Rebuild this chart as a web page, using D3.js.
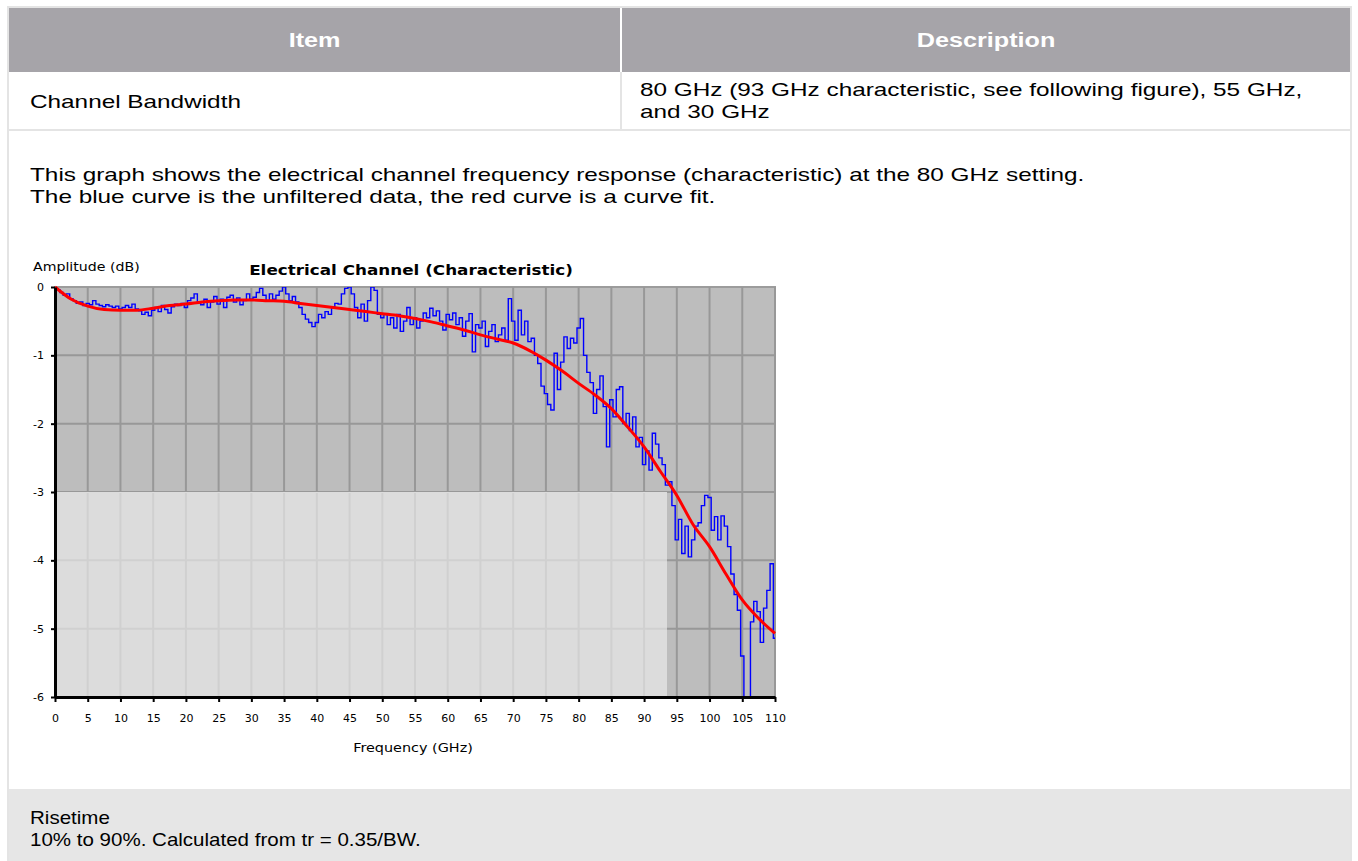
<!DOCTYPE html>
<meta charset="utf-8">
<style>
body { margin: 0; background: #fff; font-family: "Liberation Sans", Arial, sans-serif; color: #000; }
#page { position: relative; width: 1358px; height: 861px; overflow: hidden; }
.box { position: absolute; }
.frame { left: 7px; top: 6px; width: 1341px; height: 900px; border: 2px solid #e4e4e4; }
.head { top: 8px; height: 64px; background: #a6a4a9; color: #fff; font-weight: bold; font-size: 20px;
        display: flex; align-items: center; justify-content: center; }
.head span { display: inline-block; transform: scaleX(1.26); }
.cell { font-size: 19px; line-height: 22px; transform-origin: 0 0; white-space: nowrap; }
.wide { transform: scaleX(1.28); }
.grayrow { left: 9px; top: 789px; width: 1341px; height: 80px; background: #e6e6e6; }
svg text { font-family: "DejaVu Sans", sans-serif; }
</style>
<body>
<div id="page">
  <div class="box frame"></div>
  <div class="box head" style="left:9px;width:611px;"><span>Item</span></div>
  <div class="box head" style="left:622px;width:728px;"><span>Description</span></div>
  <div class="box" style="left:620px;top:72px;width:2px;height:58px;background:#e4e4e4;"></div>
  <div class="box" style="left:9px;top:129px;width:1341px;height:2px;background:#e4e4e4;"></div>
  <div class="box cell wide" style="left:30px;top:91px;">Channel Bandwidth</div>
  <div class="box cell wide" style="left:640px;top:79px;">80 GHz (93 GHz characteristic, see following figure), 55 GHz,<br>and 30 GHz</div>
  <div class="box cell wide" style="left:30px;top:164px;">This graph shows the electrical channel frequency response (characteristic) at the 80 GHz setting.<br>The blue curve is the unfiltered data, the red curve is a curve fit.</div>
  <div class="box grayrow"></div>
  <div class="box cell" style="left:30px;top:807px;transform:scaleX(1.08);">Risetime<br>10% to 90%. Calculated from tr = 0.35/BW.</div>
</div>

<script src="https://d3js.org/d3.v7.min.js"></script>
<script>

// axis ticks
var freqTicks = [0, 5, 10, 15, 20, 25, 30, 35, 40, 45, 50, 55, 60, 65, 70, 75, 80, 85, 90, 95, 100, 105, 110];
var dbTicks = [0, -1, -2, -3, -4, -5, -6];

// measured (unfiltered) response, one sample every 0.5 GHz from 0 to 110 GHz
var sampleStep = 0.5;
var measuredDb = [
  // 0 - 10 GHz
  0, -0.04, -0.08, -0.12, -0.1, -0.17, -0.2, -0.24, -0.22, -0.27,
  -0.24, -0.26, -0.2, -0.25, -0.27, -0.29, -0.26, -0.28, -0.3, -0.28,
  // 10 - 20
  -0.32, -0.3, -0.27, -0.3, -0.25, -0.32, -0.35, -0.4, -0.37, -0.42,
  -0.34, -0.3, -0.36, -0.27, -0.33, -0.38, -0.29, -0.25, -0.27, -0.24,
  // 20 - 30
  -0.3, -0.2, -0.16, -0.1, -0.22, -0.26, -0.18, -0.3, -0.22, -0.14,
  -0.25, -0.18, -0.3, -0.15, -0.12, -0.22, -0.16, -0.26, -0.2, -0.1,
  // 30 - 40
  -0.18, -0.15, -0.08, -0.02, -0.12, -0.2, -0.1, -0.18, -0.12, -0.06,
  0, -0.1, -0.2, -0.14, -0.22, -0.3, -0.4, -0.47, -0.52, -0.58,
  // 40 - 50
  -0.52, -0.4, -0.45, -0.36, -0.4, -0.3, -0.24, -0.25, -0.1, -0.02,
  0, -0.1, -0.3, -0.45, -0.25, -0.5, -0.2, 0, -0.05, -0.4,
  // 50 - 60
  -0.45, -0.4, -0.55, -0.45, -0.6, -0.4, -0.65, -0.5, -0.3, -0.55,
  -0.45, -0.6, -0.5, -0.38, -0.45, -0.31, -0.42, -0.35, -0.5, -0.63,
  // 60 - 70
  -0.4, -0.48, -0.38, -0.55, -0.45, -0.72, -0.5, -0.39, -0.95, -0.55,
  -0.6, -0.5, -0.87, -0.65, -0.55, -0.8, -0.7, -0.6, -0.78, -0.17,
  // 70 - 80
  -0.5, -0.78, -0.34, -0.7, -0.5, -0.8, -0.75, -1.0, -1.12, -1.45,
  -1.56, -1.72, -1.8, -0.97, -1.5, -1.1, -0.73, -0.9, -0.75, -0.82,
  // 80 - 90
  -0.6, -0.46, -1.0, -1.25, -1.4, -1.85, -1.5, -1.3, -1.75, -2.34,
  -1.65, -1.9, -1.5, -1.46, -2.0, -1.85, -2.1, -1.9, -2.34, -2.2,
  // 90 - 100
  -2.6, -2.4, -2.68, -2.14, -2.3, -2.5, -2.6, -2.9, -2.85, -3.2,
  -3.7, -3.4, -3.9, -3.5, -3.95, -3.7, -3.5, -3.45, -3.2, -3.05,
  // 100 - 110
  -3.08, -3.56, -3.36, -3.7, -3.35, -3.5, -3.8, -4.2, -4.5, -4.73,
  -5.4, -6, -6, -4.9, -4.6, -4.75, -5.2, -4.7, -4.44, -4.05,
  -5.14
];

// curve fit
var fitFreq = [0, 2.5, 5, 7.5, 10, 12.5, 15, 17.5, 20, 22.5, 25, 27.5, 30, 32.5, 35, 37.5, 40, 42.5, 45, 47.5,
               50, 52.5, 55, 57.5, 60, 62.5, 65, 67.5, 70, 72.5, 75, 77.5, 80, 82.5, 85, 87.5, 90, 92.5, 95,
               97.5, 100, 102.5, 105, 107.5, 110];
var fitDb = [0, -0.18, -0.28, -0.33, -0.34, -0.34, -0.31, -0.27, -0.25, -0.22, -0.2, -0.19, -0.19, -0.2, -0.21,
             -0.24, -0.27, -0.3, -0.33, -0.36, -0.39, -0.42, -0.46, -0.51, -0.57, -0.63, -0.7, -0.76, -0.82,
             -0.93, -1.07, -1.23, -1.41, -1.58, -1.78, -2.05, -2.34, -2.7, -3.05, -3.48, -3.8, -4.2, -4.58,
             -4.85, -5.07];

// -3 dB region
var cutoffFreq = 93.5;
var cutoffDb = -3;

var measured = measuredDb.map(function(v, i) { return {f: i * sampleStep, db: v}; });
var fit = fitFreq.map(function(f, i) { return {f: f, db: fitDb[i]}; });

// plot box on the page
var margin = {top: 287, left: 55},
    width = 720,
    height = 410;

var svg = d3.select("#page").append("svg")
    .attr("width", 1358)
    .attr("height", 861)
    .style("position", "absolute")
    .style("left", 0)
    .style("top", 0);

var x = d3.scaleLinear().domain([0, 110]).range([0, width]);
var y = d3.scaleLinear().domain([-6, 0]).range([height, 0]);

var g = svg.append("g")
    .attr("transform", "translate(" + margin.left + "," + margin.top + ")");

g.append("clipPath").attr("id", "plotclip")
  .append("rect").attr("width", width).attr("height", height);

// background
g.append("rect")
    .attr("width", width)
    .attr("height", height)
    .attr("fill", "#bdbdbd")
    .attr("stroke", "#9c9c9c")
    .attr("stroke-width", 2);

// grid
g.selectAll(".vgrid").data(freqTicks.slice(1)).enter().append("line")
    .attr("x1", function(d) { return x(d); })
    .attr("x2", function(d) { return x(d); })
    .attr("y1", 0).attr("y2", height)
    .attr("stroke", "#989898").attr("stroke-width", 2);
g.selectAll(".hgrid").data(dbTicks.slice(1, 6)).enter().append("line")
    .attr("x1", 0).attr("x2", width)
    .attr("y1", function(d) { return y(d); })
    .attr("y2", function(d) { return y(d); })
    .attr("stroke", "#989898").attr("stroke-width", 2);

// light region below -3 dB up to the cutoff
g.append("rect")
    .attr("x", 0)
    .attr("y", y(cutoffDb))
    .attr("width", x(cutoffFreq))
    .attr("height", y(-6) - y(cutoffDb))
    .attr("fill", "#dcdcdc");
g.selectAll(".lvgrid").data(freqTicks.filter(function(d) { return d > 0 && d < cutoffFreq; })).enter().append("line")
    .attr("x1", function(d) { return x(d); })
    .attr("x2", function(d) { return x(d); })
    .attr("y1", y(cutoffDb) + 1).attr("y2", height)
    .attr("stroke", "#d0d0d0").attr("stroke-width", 2);
g.selectAll(".lhgrid").data([-4, -5]).enter().append("line")
    .attr("x1", 0).attr("x2", x(cutoffFreq))
    .attr("y1", function(d) { return y(d); })
    .attr("y2", function(d) { return y(d); })
    .attr("stroke", "#d0d0d0").attr("stroke-width", 2);

// curves
var rawLine = d3.line()
    .curve(d3.curveStep)
    .x(function(d) { return x(d.f); })
    .y(function(d) { return y(d.db); });

var fitLine = d3.line()
    .curve(d3.curveMonotoneX)
    .x(function(d) { return x(d.f); })
    .y(function(d) { return y(d.db); });

g.append("path")
    .datum(measured)
    .attr("clip-path", "url(#plotclip)")
    .attr("fill", "none")
    .attr("stroke", "#0000ff")
    .attr("stroke-width", 1.4)
    .attr("d", rawLine);

g.append("path")
    .datum(fit)
    .attr("fill", "none")
    .attr("stroke", "#ff0000")
    .attr("stroke-width", 3)
    .attr("d", fitLine);

// axes
var dbFormat = function(d) { return d === 0 ? "0" : "-" + Math.abs(d); };

var xAxis = g.append("g")
    .attr("transform", "translate(0," + height + ")")
    .call(d3.axisBottom(x).tickValues(freqTicks).tickSize(5).tickSizeOuter(0).tickPadding(12));
var yAxis = g.append("g")
    .call(d3.axisLeft(y).tickValues(dbTicks).tickFormat(dbFormat).tickSize(4).tickSizeOuter(0).tickPadding(7));

[xAxis, yAxis].forEach(function(a) {
  a.select(".domain").attr("stroke", "#000").attr("stroke-width", 3);
  a.selectAll(".tick line").attr("stroke", "#000").attr("stroke-width", 2);
  a.selectAll(".tick text").attr("fill", "#000").style("font-size", "11px");
});

// labels
svg.append("text")
    .attr("transform", "translate(33,271) scale(1.18,1)")
    .style("font-size", "12px")
    .text("Amplitude (dB)");

svg.append("text")
    .attr("transform", "translate(411,275) scale(1.2,1)")
    .attr("text-anchor", "middle")
    .style("font-size", "14px")
    .style("font-weight", "bold")
    .text("Electrical Channel (Characteristic)");

svg.append("text")
    .attr("transform", "translate(413,752) scale(1.2,1)")
    .attr("text-anchor", "middle")
    .style("font-size", "12px")
    .text("Frequency (GHz)");

</script>
</body>
